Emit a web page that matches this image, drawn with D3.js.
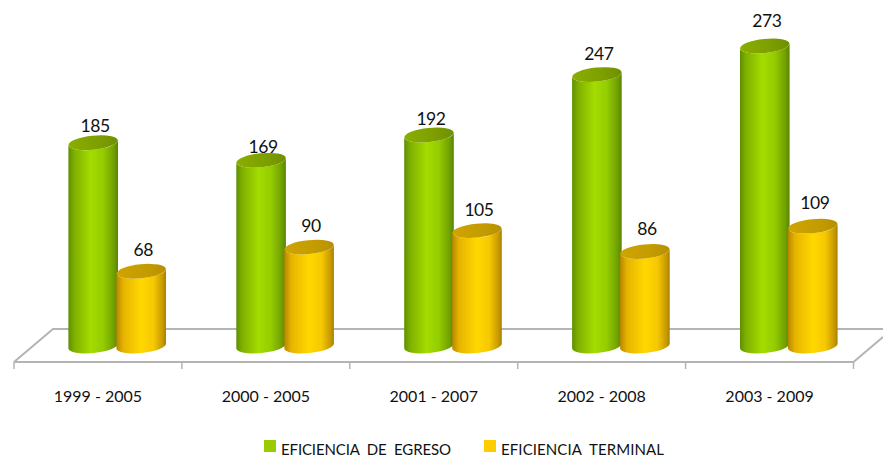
<!DOCTYPE html>
<html><head><meta charset="utf-8">
<script src="https://cdn.jsdelivr.net/npm/d3@7/dist/d3.min.js"></script>
<style>html,body{margin:0;padding:0;background:#fff}svg{display:block}text{font-family:Lato,"Open Sans",sans-serif;fill:#111}</style>
</head><body><div id="chart"></div>
<script>
const categories = ["1999 - 2005","2000 - 2005","2001 - 2007","2002 - 2008","2003 - 2009"];
const seriesNames = ["EFICIENCIA  DE  EGRESO","EFICIENCIA  TERMINAL"];
const egreso = [185,169,192,247,273];
const terminal = [68,90,105,86,109];
// hand-placed label gaps above each cylinder top, as in the reference
const egresoLabelGap = [11,7,10,15,19];
const terminalLabelGap = [15,15.5,15,16,17];
const W=883,H=457;
const svg=d3.select("#chart").append("svg").attr("width",W).attr("height",H);
const defs=svg.append("defs");
function grad(id,stops){const g=defs.append("linearGradient").attr("id",id);
  stops.forEach(s=>g.append("stop").attr("offset",s[0]).attr("stop-color",s[1]));}
grad("gBody",[[0,"#5f8f00"],[.12,"#7fb000"],[.45,"#a4dc00"],[.7,"#94cc00"],[.92,"#6f9f00"],[1,"#5a8500"]]);
grad("yBody",[[0,"#b88600"],[.14,"#e6b400"],[.5,"#ffd800"],[.75,"#f6c800"],[.93,"#c89a00"],[1,"#a88000"]]);
grad("gTop",[[0,"#8aae00"],[.6,"#7d9f00"],[1,"#6f9000"]]);
grad("yTop",[[0,"#d0a400"],[.6,"#c49c00"],[1,"#b89000"]]);
defs.append("filter").attr("id","soft").attr("x","-10%").attr("y","-10%").attr("width","120%").attr("height","120%")
  .append("feGaussianBlur").attr("stdDeviation",0.5);

const x0=d3.scaleBand().domain(categories).range([14,853.5]);
const x1=d3.scaleBand().domain(["egreso","terminal"]).range([0,97]);
const y=d3.scaleLinear().domain([0,273]).range([346,46]);
const depthX=39,depthY=33,floorY=362;

// floor
const floor=svg.append("g").attr("fill","none").attr("stroke","#b4b4b4").attr("stroke-width",2).attr("filter","url(#soft)");
floor.append("path").attr("d",d3.line()([[14,floorY],[14+depthX,floorY-depthY],[W,floorY-depthY]]));
floor.append("path").attr("d",d3.line()([[14,floorY],[853.5,floorY],[W,floorY-25]]));
const boundaries=categories.map(c=>x0(c)).concat([x0.range()[1]]);
floor.selectAll("line").data(boundaries).join("line")
  .attr("x1",d=>d).attr("x2",d=>d).attr("y1",floorY).attr("y2",floorY+7).attr("stroke-width",1.5);

// category labels
const axis=svg.append("g").attr("transform","translate(0,387)")
  .call(d3.axisBottom(x0).tickSize(0).tickPadding(4));
axis.select(".domain").remove();
axis.selectAll("text").style("font-family",'Lato,"Open Sans",sans-serif').style("font-size","16px").attr("fill","#111");

// cylinders
const rx=24.8,ry=7,tilt=2.5,rot=-5.8;
function body(cx,top,bot){
  return `M${cx-rx},${top+tilt}L${cx-rx},${bot+tilt}A${rx},${ry} ${rot} 0 0 ${cx+rx},${bot-tilt}L${cx+rx},${top-tilt}A${rx},${ry} ${rot} 0 1 ${cx-rx},${top+tilt}Z`;
}
const offsetX=depthX/2;
const series=[
  {k:"egreso",v:egreso,gap:egresoLabelGap,b:"url(#gBody)",t:"url(#gTop)"},
  {k:"terminal",v:terminal,gap:terminalLabelGap,b:"url(#yBody)",t:"url(#yTop)"}];
const groups=svg.selectAll("g.grp").data(categories).join("g").attr("class","grp");
groups.each(function(c,i){
  const g=d3.select(this);
  series.forEach(s=>{
    const cx=x0(c)+x0.bandwidth()/2+offsetX-48.5+x1(s.k)+x1.bandwidth()/2-(s.k==="terminal"?0.5:0);
    const t=y(s.v[i]);
    const m=g.append("g").attr("filter","url(#soft)");
    m.append("path").attr("d",body(cx,t,y(0))).attr("fill",s.b);
    m.append("ellipse").attr("cx",cx).attr("cy",t).attr("rx",rx).attr("ry",ry)
      .attr("transform",`rotate(${rot} ${cx} ${t})`).attr("fill",s.t);
    g.append("text").attr("x",cx+2).attr("y",t-s.gap[i]).attr("text-anchor","middle")
      .style("font-size","17.5px").style("letter-spacing","-0.4px").text(s.v[i]);
  });
});

// legend
const legendData=[{n:seriesNames[0],c:"#99cc00",x:264,tx:281,w:170},{n:seriesNames[1],c:"#ffcc00",x:484,tx:501,w:163}];
const lg=svg.selectAll("g.lg").data(legendData).join("g").attr("class","lg");
lg.append("rect").attr("x",d=>d.x).attr("y",440).attr("width",12).attr("height",12).attr("fill",d=>d.c);
lg.append("text").attr("x",d=>d.tx).attr("y",454.5).style("font-size","15px").style("white-space","pre")
  .attr("textLength",d=>d.w).attr("lengthAdjust","spacing").text(d=>d.n);
</script></body></html>
